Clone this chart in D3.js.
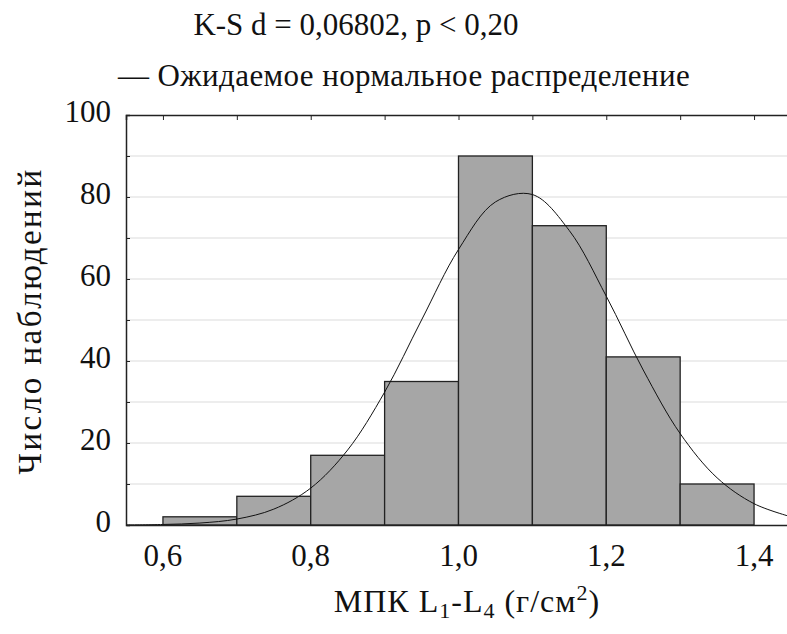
<!DOCTYPE html>
<html><head><meta charset="utf-8">
<script src="https://cdn.jsdelivr.net/npm/d3@7"></script>
<style>body{margin:0;background:#fff}svg{display:block}</style>
</head><body>
<svg id="c" width="787" height="634"></svg>
<script>
const binStarts = [0.6, 0.7, 0.8, 0.9, 1.0, 1.1, 1.2, 1.3];
const binWidth = 0.1;
const counts = [2, 7, 17, 35, 90, 73, 41, 10];
const curveX = [0.55,0.60,0.65,0.70,0.75,0.80,0.85,0.90,0.95,1.00,1.05,1.10,1.15,1.20,1.25,1.30,1.35,1.40,1.45];
const curveY = [0.03,0.13,0.48,1.45,3.87,9.0,18.3,32.4,50.0,67.2,78.8,80.6,71.8,55.8,37.8,22.3,11.5,5.2,2.0];
const xTicks = [0.6, 0.8, 1.0, 1.2, 1.4];
const xTopTicks = [0.6,0.7,0.8,0.9,1.0,1.1,1.2,1.3,1.4];
const yTicks = [0, 20, 40, 60, 80, 100];
const yGrid = [10,20,30,40,50,60,70,80,90];
const title1 = "K-S d = 0,06802, p < 0,20";
const title2 = "— Ожидаемое нормальное распределение";
const yTitle = "Число наблюдений";

const FONT = "'Liberation Serif', Tinos, 'Times New Roman', 'DejaVu Serif', serif";
const svg = d3.select("#c").attr("font-family", FONT);
const L = 126, R = 791, T = 115, B = 525;
const x = d3.scaleLinear().domain([0.55, 1.45]).range([L, R]);
const y = d3.scaleLinear().domain([0, 100]).range([B, T]);
const fmt = d => d3.format(".1f")(d).replace(".", ",");

// grid
svg.append("g").selectAll("line").data(yGrid).join("line")
  .attr("x1", L).attr("x2", R).attr("y1", d => y(d)).attr("y2", d => y(d))
  .attr("stroke", "#dcdcdc").attr("stroke-width", 1.2);

// bars
svg.append("g").selectAll("rect").data(counts).join("rect")
  .attr("x", (d, i) => x(binStarts[i]))
  .attr("width", (d, i) => x(binStarts[i] + binWidth) - x(binStarts[i]))
  .attr("y", d => y(d)).attr("height", d => y(0) - y(d))
  .attr("fill", "#a6a6a6").attr("stroke", "#222").attr("stroke-width", 1.3);

// curve
const pts = curveX.map((v, i) => [v, curveY[i]]);
svg.append("path").datum(pts)
  .attr("d", d3.line().x(d => x(d[0])).y(d => y(d[1])).curve(d3.curveCatmullRom.alpha(0.5)))
  .attr("fill", "none").attr("stroke", "#111").attr("stroke-width", 1);

// left axis
const yAxis = d3.axisRight(y).tickValues(yGrid.concat([0,100])).tickSize(4).tickFormat("");
const ya = svg.append("g").attr("transform", `translate(${L},0)`).call(yAxis);
ya.select(".domain").attr("stroke", "#222").attr("stroke-width", 1.5);
ya.selectAll(".tick line").attr("stroke", "#222");
svg.append("g").selectAll("text").data(yTicks).join("text")
  .attr("x", L - 15).attr("y", d => y(d) + 7)
  .attr("text-anchor", "end").attr("font-family", FONT).attr("font-size", 31).attr("fill", "#111").text(d => d);

// top axis
const xTop = d3.axisBottom(x).tickValues(xTopTicks).tickSize(5).tickFormat("");
const xt = svg.append("g").attr("transform", `translate(0,${T})`).call(xTop);
xt.select(".domain").attr("stroke", "#222").attr("stroke-width", 1.5);
xt.selectAll(".tick line").attr("stroke", "#222");

// bottom axis
const xBot = d3.axisBottom(x).tickValues(xTicks).tickSize(0).tickFormat("");
const xb = svg.append("g").attr("transform", `translate(0,${B})`).call(xBot);
xb.select(".domain").attr("stroke", "#222").attr("stroke-width", 1.5);
svg.append("g").selectAll("text").data(xTicks).join("text")
  .attr("x", d => x(d)).attr("y", 566).attr("text-anchor", "middle")
  .attr("font-family", FONT).attr("font-size", 31).attr("fill", "#111").text(fmt);

// titles
const T_ATTR = s => s.attr("font-family", FONT).attr("fill", "#111").attr("text-anchor", "middle");
svg.append("text").call(T_ATTR).attr("x", 356).attr("y", 35).attr("font-size", 31).text(title1);
svg.append("text").call(T_ATTR).attr("x", 404).attr("y", 86).attr("font-size", 31).attr("letter-spacing", 0.4).text(title2);
svg.append("text").call(T_ATTR).attr("transform", "translate(41,321) rotate(-90)").attr("font-size", 33).attr("letter-spacing", 2.5).text(yTitle);

const xl = svg.append("text").call(T_ATTR).attr("x", 467).attr("y", 612).attr("font-size", 32).attr("letter-spacing", 1);
xl.append("tspan").text("МПК L");
xl.append("tspan").attr("font-size", 22).attr("dy", 6).text("1");
xl.append("tspan").attr("dy", -6).text("-L");
xl.append("tspan").attr("font-size", 22).attr("dy", 6).text("4");
xl.append("tspan").attr("dy", -6).text(" (г/см");
xl.append("tspan").attr("font-size", 22).attr("dy", -12).text("2");
xl.append("tspan").attr("dy", 12).text(")");
</script>
</body></html>
